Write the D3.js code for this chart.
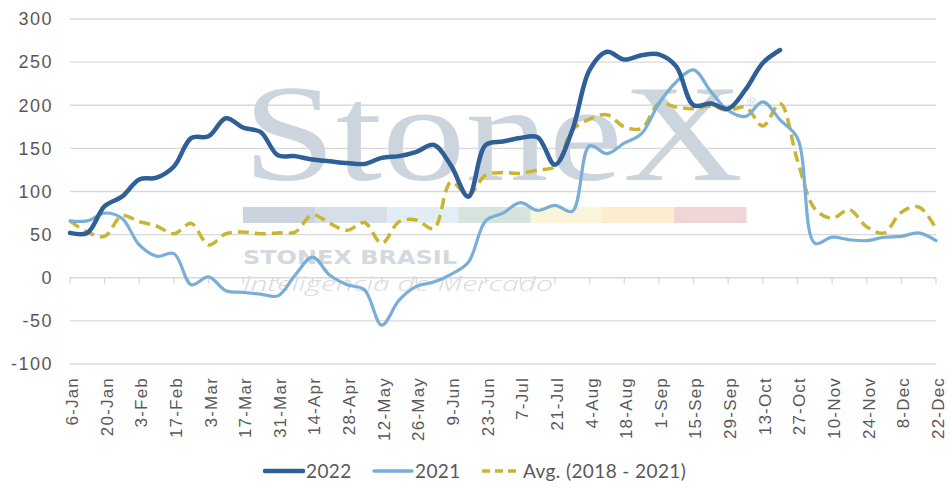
<!DOCTYPE html>
<html>
<head>
<meta charset="utf-8">
<script src="https://cdn.jsdelivr.net/npm/d3@7"></script>
<style>
  body { margin: 0; background: #fff; }
  svg { display: block; }
</style>
</head>
<body>
<div id="chart"></div>
<script>
// Weekly categories (every other one is labelled)
const weeks = ["6-Jan","13-Jan","20-Jan","27-Jan","3-Feb","10-Feb","17-Feb","24-Feb",
  "3-Mar","10-Mar","17-Mar","24-Mar","31-Mar","7-Apr","14-Apr","21-Apr","28-Apr",
  "5-May","12-May","19-May","26-May","2-Jun","9-Jun","16-Jun","23-Jun","30-Jun",
  "7-Jul","14-Jul","21-Jul","28-Jul","4-Aug","11-Aug","18-Aug","25-Aug",
  "1-Sep","8-Sep","15-Sep","22-Sep","29-Sep","6-Oct","13-Oct","20-Oct","27-Oct",
  "3-Nov","10-Nov","17-Nov","24-Nov","1-Dec","8-Dec","15-Dec","22-Dec"];

const values2022 = [52, 52, 83, 94, 114, 116, 129, 162, 164, 185, 174, 169, 142, 141, 137, 135, 133,
  132, 139, 141, 146, 154, 130, 94, 154, 158, 162, 163, 131, 171, 241, 262, 253, 258, 259, 245,
  200, 202, 196, 218, 249, 264];

const values2021 = [66, 66, 75, 69, 38, 25, 28, -8, 1, -15, -17, -19, -21, 3, 24, 3, -8, -14, -55,
  -26, -10, -5, 4, 18, 66, 75, 87, 78, 84, 77, 153, 144, 156, 167, 202, 227, 241, 216, 194, 187,
  204, 183, 162, 40, 47, 44, 43, 47, 48, 52, 43];

const valuesAvg = [66, 53, 48, 72, 65, 60, 51, 63, 38, 51, 53, 51, 52, 53, 73, 63, 55, 64, 40, 65,
  67, 57, 111, 96, 119, 122, 121, 125, 129, 171, 184, 189, 175, 173, 202, 198, 196, 199, 194, 198,
  176, 202, 136, 80, 69, 79, 59, 52, 76, 82, 57];

const yTicks = [-100, -50, 0, 50, 100, 150, 200, 250, 300];

const seriesNames = ["2022", "2021", "Avg. (2018 - 2021)"];
const seriesColors = ["#2f5f97", "#79aed8", "#c9b530"];

const watermarkBands = ["#cbd3dc", "#d6dee8", "#e2edf5", "#d5e4dc", "#faf4da", "#fcecd0", "#f0d5d6"];

const width = 951, height = 495;
const margin = {top: 19, right: 15, bottom: 131, left: 70};

const svg = d3.select("#chart")
  .append("svg")
  .attr("width", width)
  .attr("height", height);

const x = d3.scalePoint()
  .domain(weeks)
  .range([margin.left, width - margin.right]);

const y = d3.scaleLinear()
  .domain([-100, 300])
  .range([height - margin.bottom, margin.top]);

// Gridlines
svg.append("g")
  .selectAll("line")
  .data(yTicks)
  .join("line")
  .attr("x1", margin.left)
  .attr("x2", width - margin.right)
  .attr("y1", d => y(d))
  .attr("y2", d => y(d))
  .attr("stroke", "#d9d9d9")
  .attr("stroke-width", 1.3);

// Y labels
svg.append("g")
  .selectAll("text")
  .data(yTicks)
  .join("text")
  .attr("x", 53)
  .attr("y", d => y(d))
  .attr("dy", "0.35em")
  .attr("text-anchor", "end")
  .attr("font-family", "Liberation Sans, Arial, sans-serif")
  .attr("font-size", 18)
  .attr("letter-spacing", 1.5)
  .attr("fill", "#595959")
  .text(d => d);

// Tick marks on the zero line, one per labelled week
const labelled = weeks.filter((d, i) => i % 2 === 0);
svg.append("g")
  .selectAll("line")
  .data(labelled)
  .join("line")
  .attr("x1", d => x(d))
  .attr("x2", d => x(d))
  .attr("y1", y(0))
  .attr("y2", y(0) + 6)
  .attr("stroke", "#d9d9d9")
  .attr("stroke-width", 1.3);

// X labels (rotated)
svg.append("g")
  .selectAll("text")
  .data(labelled)
  .join("text")
  .attr("transform", d => `translate(${x(d) + 2},${y(-100) + 13}) rotate(-90)`)
  .attr("dy", "0.35em")
  .attr("text-anchor", "end")
  .attr("font-family", "Liberation Sans, Arial, sans-serif")
  .attr("font-size", 17)
  .attr("letter-spacing", 1.2)
  .attr("fill", "#595959")
  .text(d => d);

// Watermark
const wm = svg.append("g");
wm.append("text")
  .attr("x", 243)
  .attr("y", 180)
  .attr("font-family", "Liberation Serif, Times New Roman, serif")
  .attr("font-size", 138)
  .attr("textLength", 500)
  .attr("lengthAdjust", "spacingAndGlyphs")
  .attr("fill", "#ccd5de")
  .text("StoneX");
wm.append("text")
  .attr("x", 747)
  .attr("y", 107)
  .attr("font-family", "Liberation Sans, Arial, sans-serif")
  .attr("font-size", 13)
  .attr("fill", "#ccd5de")
  .text("®");
const bandX = d3.scaleBand()
  .domain(d3.range(watermarkBands.length))
  .range([243, 746]);
wm.selectAll("rect")
  .data(watermarkBands)
  .join("rect")
  .attr("x", (d, i) => bandX(i))
  .attr("y", 207)
  .attr("width", bandX.bandwidth() + 0.5)
  .attr("height", 16)
  .attr("fill", d => d);
wm.append("text")
  .attr("x", 243)
  .attr("y", 264)
  .attr("font-family", "DejaVu Sans, sans-serif")
  .attr("font-weight", "bold")
  .attr("font-size", 19)
  .attr("textLength", 214)
  .attr("lengthAdjust", "spacingAndGlyphs")
  .attr("fill", "#d3d9e0")
  .text("STONEX BRASIL");
wm.append("text")
  .attr("x", 243)
  .attr("y", 291)
  .attr("font-family", "Open Sans, DejaVu Sans, sans-serif")
  .attr("font-style", "italic")
  .attr("font-weight", 300)
  .attr("font-size", 21)
  .attr("textLength", 310)
  .attr("lengthAdjust", "spacingAndGlyphs")
  .attr("fill", "#d5dbe2")
  .text("Inteligência de Mercado");

// Lines
const line = d3.line()
  .x((d, i) => x(weeks[i]))
  .y(d => y(d))
  .curve(d3.curveCatmullRom.alpha(0.5));

svg.append("path")
  .datum(valuesAvg)
  .attr("fill", "none")
  .attr("stroke", seriesColors[2])
  .attr("stroke-width", 3.5)
  .attr("stroke-dasharray", "11,6")
  .attr("d", line);

svg.append("path")
  .datum(values2021)
  .attr("fill", "none")
  .attr("stroke", seriesColors[1])
  .attr("stroke-width", 3.2)
  .attr("stroke-linecap", "round")
  .attr("d", line);

svg.append("path")
  .datum(values2022)
  .attr("fill", "none")
  .attr("stroke", seriesColors[0])
  .attr("stroke-width", 4.5)
  .attr("stroke-linecap", "round")
  .attr("d", line);

// Legend
const legendItems = [
  {name: seriesNames[0], color: seriesColors[0], x: 265, w: 4.5, dash: null},
  {name: seriesNames[1], color: seriesColors[1], x: 374, w: 3.5, dash: null},
  {name: seriesNames[2], color: seriesColors[2], x: 482, w: 3.5, dash: "8,5"}
];
const legend = svg.append("g");
const lg = legend.selectAll("g")
  .data(legendItems)
  .join("g")
  .attr("transform", d => `translate(${d.x},471)`);
lg.append("line")
  .attr("x1", 0)
  .attr("x2", 38)
  .attr("stroke", d => d.color)
  .attr("stroke-width", d => d.w)
  .attr("stroke-linecap", d => d.dash ? "butt" : "round")
  .attr("stroke-dasharray", d => d.dash);
lg.append("text")
  .attr("x", 41)
  .attr("dy", "0.35em")
  .attr("font-family", "Lato, sans-serif")
  .attr("font-size", 19)
  .attr("letter-spacing", 0.4)
  .attr("fill", "#595959")
  .text(d => d.name);
</script>
</body>
</html>
